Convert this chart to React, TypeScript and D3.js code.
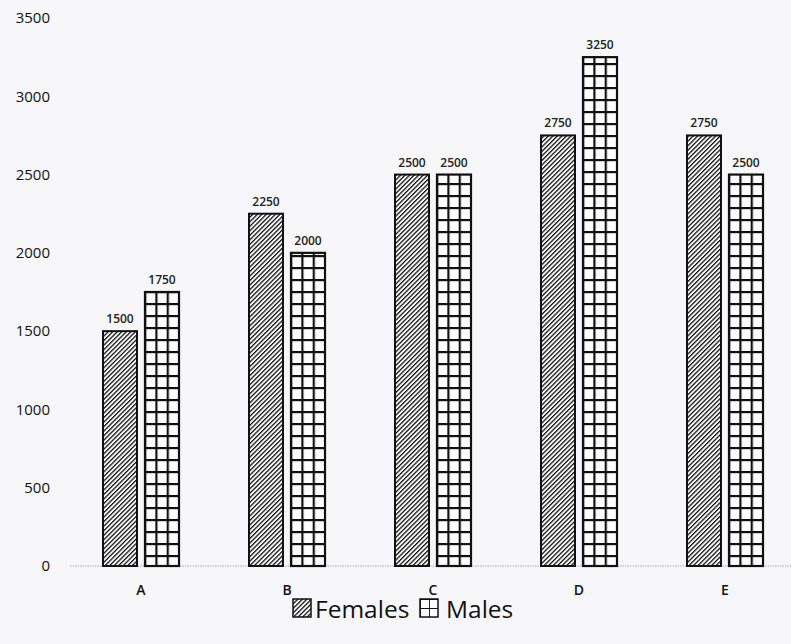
import * as d3 from "d3";
import { useEffect, useRef } from "react";

const categories = ["A", "B", "C", "D", "E"];
const females = [1500, 2250, 2500, 2750, 2750];
const males = [1750, 2000, 2500, 3250, 2500];
const yTicks = [0, 500, 1000, 1500, 2000, 2500, 3000, 3500];
const seriesNames = ["Females", "Males"];

export default function App() {
  const ref = useRef<SVGSVGElement>(null);

  useEffect(() => {
    const svg = d3.select(ref.current);
    svg.selectAll("*").remove();

    const width = 791;
    const height = 644;
    const font = "'Open Sans', 'Liberation Sans', sans-serif";

    svg.attr("width", width).attr("height", height);

    svg.append("rect")
      .attr("width", width)
      .attr("height", height)
      .attr("fill", "#f7f7f9");

    const x = d3.scaleBand()
      .domain(categories)
      .range([68, 798]);

    const y = d3.scaleLinear()
      .domain([0, 3500])
      .range([566, 18]);

    const barW = 34;
    const gap = 8;

    const defs = svg.append("defs");

    // diagonal hatch for females
    const hatch = defs.append("pattern")
      .attr("id", "hatch")
      .attr("patternUnits", "userSpaceOnUse")
      .attr("width", 3.2)
      .attr("height", 3.2)
      .attr("patternTransform", "rotate(45)");
    hatch.append("rect").attr("width", 3.2).attr("height", 3.2).attr("fill", "#fff");
    hatch.append("rect")
      .attr("x", 0).attr("y", 0)
      .attr("width", 1.3).attr("height", 3.2)
      .attr("fill", "#111");

    // grid for males, one per bar so the grid lines up with the bar
    const cellW = barW / 3;
    const cellH = 12;
    categories.forEach((c, i) => {
      const bx = x(c)! + x.bandwidth() / 2 + gap / 2;
      const p = defs.append("pattern")
        .attr("id", `grid${i}`)
        .attr("patternUnits", "userSpaceOnUse")
        .attr("x", bx - 1)
        .attr("y", y(0) + 1)
        .attr("width", cellW)
        .attr("height", cellH);
      p.append("rect").attr("width", cellW).attr("height", cellH).attr("fill", "#fff");
      p.append("rect").attr("x", 0).attr("y", 0).attr("width", 2.2).attr("height", cellH).attr("fill", "#111");
      p.append("rect").attr("x", 0).attr("y", 0).attr("width", cellW).attr("height", 2.2).attr("fill", "#111");
    });

    // y axis labels
    svg.append("g")
      .selectAll("text")
      .data(yTicks)
      .join("text")
      .attr("x", 50)
      .attr("y", d => y(d))
      .attr("dy", "0.35em")
      .attr("text-anchor", "end")
      .attr("font-family", font)
      .attr("font-size", 15)
      .attr("fill", "#111")
      .text(d => d);

    // baseline
    svg.append("line")
      .attr("x1", 70)
      .attr("x2", width)
      .attr("y1", y(0))
      .attr("y2", y(0))
      .attr("stroke", "#aaa")
      .attr("stroke-width", 1)
      .attr("stroke-dasharray", "1.5,1");

    const g = svg.append("g");

    const groups = g.selectAll("g")
      .data(categories)
      .join("g");

    // females
    groups.append("rect")
      .attr("x", c => x(c)! + x.bandwidth() / 2 - gap / 2 - barW)
      .attr("y", (c, i) => y(females[i]))
      .attr("width", barW)
      .attr("height", (c, i) => y(0) - y(females[i]))
      .attr("fill", "url(#hatch)")
      .attr("stroke", "#111")
      .attr("stroke-width", 2);

    // males
    groups.append("rect")
      .attr("x", c => x(c)! + x.bandwidth() / 2 + gap / 2)
      .attr("y", (c, i) => y(males[i]))
      .attr("width", barW)
      .attr("height", (c, i) => y(0) - y(males[i]))
      .attr("fill", (c, i) => `url(#grid${i})`)
      .attr("stroke", "#111")
      .attr("stroke-width", 2.2);

    // value labels
    groups.append("text")
      .attr("x", c => x(c)! + x.bandwidth() / 2 - gap / 2 - barW / 2)
      .attr("y", (c, i) => y(females[i]) - 8)
      .attr("text-anchor", "middle")
      .attr("font-family", font)
      .attr("font-size", 12)
      .attr("font-weight", 600)
      .attr("fill", "#222")
      .text((c, i) => females[i]);

    groups.append("text")
      .attr("x", c => x(c)! + x.bandwidth() / 2 + gap / 2 + barW / 2)
      .attr("y", (c, i) => y(males[i]) - 8)
      .attr("text-anchor", "middle")
      .attr("font-family", font)
      .attr("font-size", 12)
      .attr("font-weight", 600)
      .attr("fill", "#222")
      .text((c, i) => males[i]);

    // category labels
    groups.append("text")
      .attr("x", c => x(c)! + x.bandwidth() / 2)
      .attr("y", 595)
      .attr("text-anchor", "middle")
      .attr("font-family", font)
      .attr("font-size", 14)
      .attr("font-weight", 600)
      .attr("fill", "#111")
      .text(c => c);

    // legend
    const legend = svg.append("g");
    const items = [
      { name: seriesNames[0], fill: "url(#hatch)", sx: 293, tx: 315 },
      { name: seriesNames[1], fill: "url(#legendGrid)", sx: 420, tx: 446 }
    ];

    const lg = defs.append("pattern")
      .attr("id", "legendGrid")
      .attr("patternUnits", "userSpaceOnUse")
      .attr("x", 420)
      .attr("y", 599)
      .attr("width", 9)
      .attr("height", 9);
    lg.append("rect").attr("width", 9).attr("height", 9).attr("fill", "#fff");
    lg.append("path")
      .attr("d", "M0,0V9M0,0H9")
      .attr("stroke", "#111")
      .attr("stroke-width", 1.8);

    legend.selectAll("rect")
      .data(items)
      .join("rect")
      .attr("x", d => d.sx)
      .attr("y", 599)
      .attr("width", 18)
      .attr("height", 18)
      .attr("fill", d => d.fill)
      .attr("stroke", "#111")
      .attr("stroke-width", 1.5);

    legend.selectAll("text")
      .data(items)
      .join("text")
      .attr("x", d => d.tx)
      .attr("y", 618)
      .attr("font-family", font)
      .attr("font-size", 24.5)
      .attr("fill", "#111")
      .text(d => d.name);
  }, []);

  return (
    <div style={{ position: "fixed", left: 0, top: 0 }}>
      <svg ref={ref} style={{ display: "block" }}></svg>
    </div>
  );
}
